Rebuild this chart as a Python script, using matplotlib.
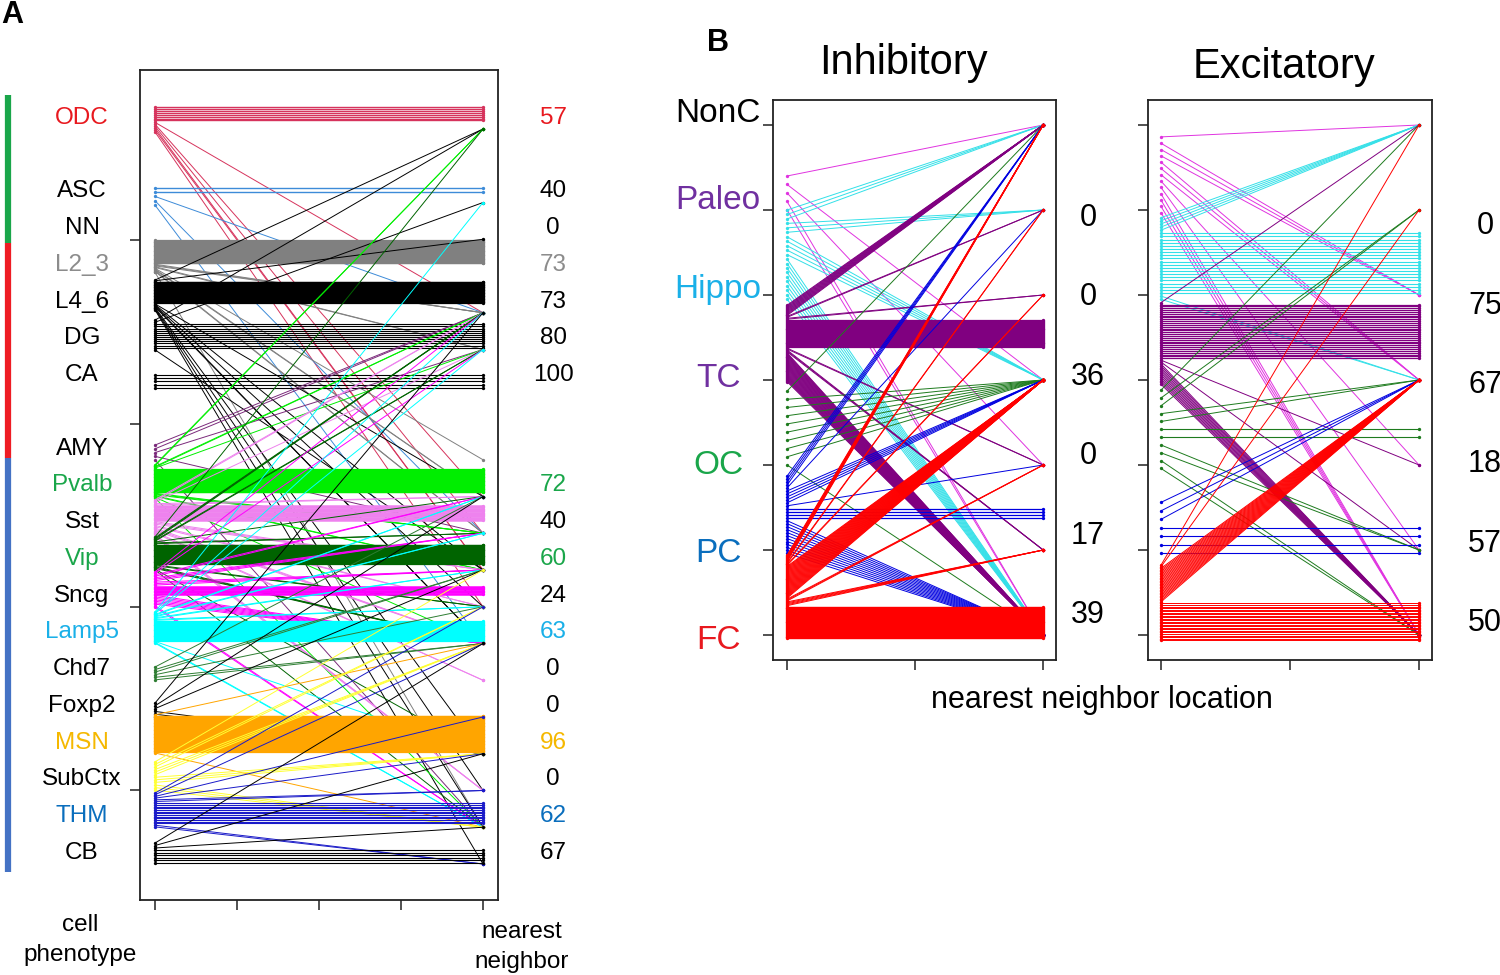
import numpy as np
import matplotlib
matplotlib.use('Agg')
import matplotlib.pyplot as plt
from matplotlib.collections import LineCollection
import matplotlib.transforms as mtransforms

plt.rcParams['font.family'] = ['Liberation Sans', 'DejaVu Sans']

# ---------------- Panel A data ----------------
a_names = ['ODC', 'ASC', 'NN', 'L2_3', 'L4_6', 'DG', 'CA', 'AMY', 'Pvalb', 'Sst', 'Vip',
           'Sncg', 'Lamp5', 'Chd7', 'Foxp2', 'MSN', 'SubCtx', 'THM', 'CB']
a_rows = [0, 2, 3, 4, 5, 6, 7, 9, 10, 11, 12, 13, 14, 15, 16, 17, 18, 19, 20]
a_label_colors = ['#e8191f', 'black', 'black', '#8c8c8c', 'black', 'black', 'black', 'black',
                  '#1aa64a', 'black', '#1aa64a', 'black', '#1ab0e8', 'black', 'black',
                  '#f5b800', 'black', '#0a6ebd', 'black']
a_line_colors = ['#d6335c', '#3d8bd8', 'black', '#808080', 'black', 'black', 'black', '#7b2a7b',
                 '#00ee00', '#ee82ee', '#006400', '#ff00ff', '#00ffff', '#2e7d32', 'black',
                 '#ffa500', '#ffff33', '#1a1ac8', 'black']
a_pct = ['57', '40', '0', '73', '73', '80', '100', '', '72', '40', '60', '24', '63', '0', '0',
         '96', '0', '62', '67']
a_band_top = [-0.30, 1.90, 3.00, 3.32, 4.41, 5.50, 6.99, 8.90, 9.44, 10.39, 11.40, 12.35,
              13.44, 14.94, 15.92, 16.24, 17.52, 18.37, 19.73]
a_band_bot = [0.38, 2.37, 3.30, 4.20, 5.22, 6.31, 7.35, 9.31, 10.34, 11.40, 12.30, 13.31,
              14.29, 15.29, 16.30, 17.28, 18.29, 19.29, 20.27]
a_self = [8, 2, 0, 30, 30, 12, 5, 0, 31, 12, 24, 6, 24, 0, 0, 48, 0, 13, 6]
a_cross = [
    [('L4_6', 1), ('Pvalb', 1), ('Sst', 1), ('Vip', 2), ('Sncg', 1)],              # ODC
    [('L4_6', 1), ('Sst', 1), ('Lamp5', 1)],                                      # ASC
    [],                                                                           # NN
    [('L4_6', 3), ('DG', 2), ('AMY', 1), ('Pvalb', 2), ('Sst', 2), ('THM', 1)],    # L2_3
    [('ODC', 1), ('NN', 1), ('Pvalb', 1), ('Vip', 1), ('Sncg', 1), ('Lamp5', 2),
     ('MSN', 1), ('SubCtx', 1), ('THM', 1), ('CB', 1)],                            # L4_6
    [('ODC', 1), ('ASC', 1), ('Vip', 1)],                                         # DG
    [],                                                                           # CA
    [('L4_6', 2), ('DG', 1), ('Sst', 1), ('THM', 1)],                              # AMY
    [('ODC', 2), ('L4_6', 2), ('DG', 1), ('Sst', 3), ('Vip', 2), ('Lamp5', 1),
     ('THM', 1)],                                                                 # Pvalb
    [('L4_6', 2), ('DG', 1), ('Pvalb', 2), ('Vip', 3), ('Sncg', 2), ('Lamp5', 3),
     ('Chd7', 2), ('SubCtx', 3)],                                                  # Sst
    [('ODC', 1), ('L4_6', 3), ('DG', 2), ('Pvalb', 1), ('Sst', 2), ('Sncg', 2),
     ('Lamp5', 3), ('MSN', 1), ('THM', 1)],                                        # Vip
    [('L4_6', 1), ('DG', 1), ('Pvalb', 2), ('Sst', 3), ('Vip', 3), ('Lamp5', 7),
     ('THM', 2)],                                                                 # Sncg
    [('ASC', 1), ('L4_6', 1), ('DG', 1), ('Pvalb', 2), ('Sst', 2), ('Vip', 2),
     ('Sncg', 2), ('MSN', 1), ('THM', 2)],                                         # Lamp5
    [('Pvalb', 1), ('Vip', 2), ('Sncg', 1), ('Lamp5', 2)],                         # Chd7
    [('L4_6', 1), ('Pvalb', 1), ('Vip', 1), ('MSN', 3)],                           # Foxp2
    [('Lamp5', 1), ('THM', 1)],                                                   # MSN
    [('Vip', 1), ('Sncg', 2), ('Lamp5', 3), ('MSN', 3), ('THM', 3)],               # SubCtx
    [('Sncg', 1), ('Lamp5', 1), ('Foxp2', 1), ('MSN', 1), ('SubCtx', 2), ('CB', 2)],# THM
    [('Lamp5', 1), ('MSN', 1), ('THM', 1)],                                        # CB
]
a_ytick_rows = [3.32, 8.33, 13.31, 18.29]

# ---------------- Panel B data ----------------
b_names = ['NonC', 'Paleo', 'Hippo', 'TC', 'OC', 'PC', 'FC']
b_label_colors = ['black', '#7030a0', '#1ab0e8', '#7030a0', '#1aa64a', '#0a6ebd', '#e8191f']
b_line_colors = ['black', '#e033e0', '#33e0e8', '#800080', '#1e7b1e', '#0000e0', '#ff0000']

inh_band_top = [0.0, 0.60, 1.00, 2.12, 3.13, 4.13, 5.06]
inh_band_bot = [0.0, 1.00, 2.05, 3.02, 4.00, 5.04, 6.04]
inh_self = [0, 0, 0, 30, 0, 4, 35]
inh_cross = [
    [],
    [('NonC', 1), ('TC', 1), ('OC', 1), ('FC', 2)],
    [('NonC', 3), ('Paleo', 3), ('TC', 5), ('FC', 10)],
    [('NonC', 12), ('Paleo', 2), ('Hippo', 2), ('OC', 2), ('PC', 3), ('FC', 32)],
    [('NonC', 1), ('TC', 8), ('FC', 1)],
    [('NonC', 4), ('Paleo', 1), ('TC', 5), ('OC', 1), ('FC', 12)],
    [('NonC', 8), ('Paleo', 2), ('Hippo', 2), ('TC', 35), ('OC', 3), ('PC', 5)],
]
inh_pct = ['', '0', '0', '36', '0', '17', '39']

exc_band_top = [0.0, 0.14, 1.09, 2.09, 3.12, 4.44, 5.18]
exc_band_bot = [0.0, 1.03, 2.05, 3.05, 4.04, 5.04, 6.06]
exc_self = [0, 0, 20, 30, 2, 4, 25]
exc_cross = [
    [],
    [('NonC', 1), ('Hippo', 3), ('TC', 3), ('OC', 1), ('PC', 1), ('FC', 4)],
    [('NonC', 5), ('TC', 2)],
    [('NonC', 1), ('OC', 1), ('PC', 1), ('FC', 12)],
    [('NonC', 1), ('Paleo', 2), ('TC', 2), ('PC', 2), ('FC', 2)],
    [('TC', 3)],
    [('NonC', 1), ('Paleo', 1), ('TC', 23)],
]
exc_pct = ['', '0', '75', '67', '18', '57', '50']

# line widths used for the horizontal (same-category) lines, per category
a_self_lw = [1.0, 1.0, 0.8, 0.9, 0.9, 0.8, 0.8, 0.8, 0.9, 1.8, 0.9, 1.8, 0.9, 0.8, 0.8,
             0.9, 0.8, 0.8, 0.8]
inh_self_lw = [0.8, 0.8, 0.8, 0.9, 0.8, 0.9, 1.0]
exc_self_lw = [0.8, 0.8, 0.8, 0.9, 0.8, 0.8, 0.7]


def draw_links(ax, names, colors, band_top, band_bot, self_n, cross, hub, x0, x1,
               self_lw, lw=0.7, ms=2.4):
    idx = {n: i for i, n in enumerate(names)}
    for i in range(len(names)):
        targets = [(idx[t], c) for t, c in cross[i]]
        if self_n[i] > 0:
            targets.append((i, self_n[i]))
        targets.sort()
        seq = [t for t, c in targets for _ in range(c)]
        if not seq:
            continue
        ys = np.linspace(band_top[i], band_bot[i], len(seq))
        segs, lws, ends = [], [], []
        for y0, t in zip(ys, seq):
            y1 = y0 if t == i else hub[t]
            segs.append([(x0, y0), (x1, y1)])
            lws.append(self_lw[i] if t == i else lw)
            ends.append(y1)
        ax.add_collection(LineCollection(segs, colors=colors[i], linewidths=lws))
        ax.plot([x0] * len(ys), ys, 'o', color=colors[i], ms=ms, mew=0)
        ax.plot([x1] * len(ends), ends, 'o', color=colors[i], ms=ms, mew=0)


def style_axes(ax):
    for s in ax.spines.values():
        s.set_linewidth(1.3)
        s.set_color('#222222')
    ax.tick_params(axis='both', direction='out', length=7, width=1.2, color='#333333',
                   labelleft=False, labelbottom=False)


W, H = 1500, 975
fig = plt.figure(figsize=(15, 9.75), dpi=100)

# ---------------- Panel A ----------------
axA = fig.add_axes([140 / W, 1 - 900 / H, 358 / W, 830 / H])
a_hub = [r + 0.3 for r in a_rows]
draw_links(axA, a_names, a_line_colors, a_band_top, a_band_bot, a_self, a_cross, a_hub, 1, 5,
           a_self_lw)
axA.set_xlim(0.817, 5.183)
axA.set_ylim(21.28, -1.306)
axA.set_xticks([1, 2, 3, 4, 5])
axA.set_yticks(a_ytick_rows)
style_axes(axA)
trA = mtransforms.blended_transform_factory(axA.transAxes, axA.transData)
for r, n, c, p in zip(a_rows, a_names, a_label_colors, a_pct):
    axA.text(-0.162, r, n, transform=trA, ha='center', va='center', fontsize=17.5, color=c)
    if p:
        axA.text(1.154, r, p, transform=trA, ha='center', va='center', fontsize=17.5, color=c)
# group bar at the far left
for (y0, y1, c) in [(-0.63, 3.4, '#1aa64a'), (3.4, 9.25, '#ee1c24'), (9.25, 20.52, '#4472c4')]:
    axA.plot([-0.369, -0.369], [y0, y1], transform=trA, color=c, lw=4.5, clip_on=False,
             solid_capstyle='butt')
fig.text(80 / W, 1 - 925 / H, 'cell', ha='center', va='center', fontsize=17.5)
fig.text(80 / W, 1 - 955 / H, 'phenotype', ha='center', va='center', fontsize=17.5)
fig.text(522 / W, 1 - 932 / H, 'nearest', ha='center', va='center', fontsize=17.5)
fig.text(522 / W, 1 - 962 / H, 'neighbor', ha='center', va='center', fontsize=17.5)
fig.text(12 / W, 1 - 15 / H, 'A', ha='center', va='center', fontsize=22, fontweight='bold')

# ---------------- Panel B ----------------
bfont = ['Liberation Sans', 'DejaVu Sans']
b_hub = list(range(len(b_names)))
b_label_y = [-0.14, 0.894, 1.94, 2.98, 4.0, 5.04, 6.07]
inh_pct_y = [0, 1.094, 2.02, 2.96, 3.89, 4.84, 5.76]
exc_pct_y = [0, 1.19, 2.13, 3.06, 3.99, 4.93, 5.86]

axI = fig.add_axes([773 / W, 1 - 660 / H, 283 / W, 560 / H])
draw_links(axI, b_names, b_line_colors, inh_band_top, inh_band_bot, inh_self, inh_cross,
           b_hub, 1, 3, inh_self_lw)
axI.set_xlim(0.89, 3.10)
axI.set_ylim(6.294, -0.294)
axI.set_xticks([1, 2, 3])
axI.set_yticks(b_hub)
style_axes(axI)

axE = fig.add_axes([1148 / W, 1 - 660 / H, 284 / W, 560 / H])
draw_links(axE, b_names, b_line_colors, exc_band_top, exc_band_bot, exc_self, exc_cross,
           b_hub, 1, 3, exc_self_lw)
axE.set_xlim(0.90, 3.10)
axE.set_ylim(6.294, -0.294)
axE.set_xticks([1, 2, 3])
axE.set_yticks(b_hub)
style_axes(axE)

trI = mtransforms.blended_transform_factory(axI.transAxes, axI.transData)
trE = mtransforms.blended_transform_factory(axE.transAxes, axE.transData)
for i, (n, c) in enumerate(zip(b_names, b_label_colors)):
    axI.text(-0.194, b_label_y[i], n, transform=trI, ha='center', va='center',
             fontsize=24, color=c, family=bfont)
    if inh_pct[i]:
        axI.text(1.113, inh_pct_y[i], inh_pct[i], transform=trI, ha='center', va='center',
                 fontsize=22, family=bfont)
    if exc_pct[i]:
        axE.text(1.187, exc_pct_y[i], exc_pct[i], transform=trE, ha='center', va='center',
                 fontsize=22, family=bfont)

fig.text(903 / W, 1 - 63 / H, 'Inhibitory', ha='center', va='center', fontsize=30, family=bfont)
fig.text(1284 / W, 1 - 67 / H, 'Excitatory', ha='center', va='center', fontsize=30, family=bfont)
fig.text(1102 / W, 1 - 700 / H, 'nearest neighbor location', ha='center', va='center',
         fontsize=22, family=bfont)
fig.text(718 / W, 1 - 43 / H, 'B', ha='center', va='center', fontsize=22, fontweight='bold')

fig.savefig('out.png', dpi=100, facecolor='white')
